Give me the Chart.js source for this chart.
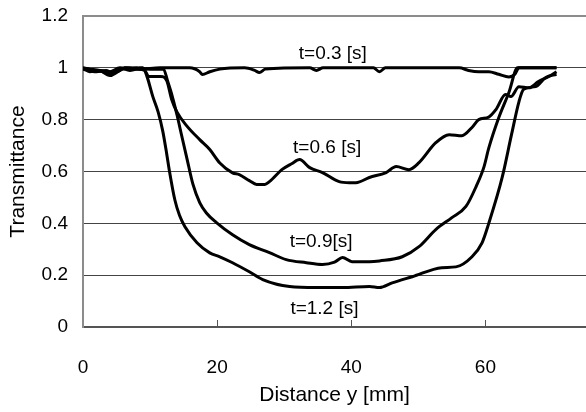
<!DOCTYPE html>
<html><head><meta charset="utf-8">
<script src="https://cdn.jsdelivr.net/npm/chart.js@4"></script>
<style>html,body{margin:0;padding:0;background:#fff}#wrap{width:586px;height:412px}</style>
</head><body><div id="wrap"><canvas id="c" width="586" height="412"></canvas></div>
<script>
const xTicks = [0, 20, 40, 60];
const yTicks = [0, 0.2, 0.4, 0.6, 0.8, 1, 1.2];
const yTickLabels = ['0', '0.2', '0.4', '0.6', '0.8', '1', '1.2'];
const seriesNames = ['t=0.3 [s]', 't=0.6 [s]', 't=0.9[s]', 't=1.2 [s]'];

const dist03 = [0,1,2.5,4,5.2,6.2,8.5,11.5,15.9,17.4,17.8,18.9,20.4,24.1,25.6,26.3,27.2,33.8,34.8,35.8,43.3,44.2,45.1,56.1,57.5,59.0,60.5,62.0,63.5,64.4,65.0,70.6];
const trans03 = [1,0.995,0.99,0.97,0.985,1,0.995,1,1,0.985,0.974,0.985,0.995,1,0.99,0.982,0.995,1,0.99,1,1,0.985,1,1,0.99,0.985,0.985,0.975,0.965,0.975,1,1];

const dist06 = [0,1.5,3,4,5,6.5,8,9.2,9.8,11.6,12.5,13.2,14.0,15.5,17.4,18.9,20.4,22.3,23.3,24.8,25.9,27.1,27.8,29.7,31.1,32.3,33.8,35.7,38.2,39.7,40.7,42.7,45.2,46.7,48.6,50.1,52.6,54.6,56.5,58.0,59.0,60.5,61.6,63.0,63.8,65.0,66.5,67.9,69.4,70.6];
const trans06 = [1,0.99,0.985,0.975,0.99,1,0.995,0.99,0.967,0.967,0.95,0.88,0.83,0.775,0.723,0.685,0.633,0.595,0.588,0.565,0.55,0.55,0.561,0.608,0.63,0.646,0.615,0.596,0.561,0.557,0.557,0.577,0.596,0.619,0.607,0.634,0.711,0.742,0.738,0.77,0.8,0.81,0.84,0.897,0.889,0.927,0.923,0.947,0.966,0.985];

const dist09 = [0,2,3.5,4.5,6,8,10,12.0,12.6,13.2,14.0,14.7,15.5,16.4,17.4,18.4,19.9,22.3,24.8,27.8,30.3,33.3,35.7,37.5,38.7,40.1,42.7,44.2,47.6,50.1,52.6,55.0,57.1,58.6,59.8,60.5,62.0,63.5,64.8,70.6];
const trans09 = [0.995,0.985,0.99,0.98,0.995,1,0.995,0.995,0.95,0.9,0.82,0.74,0.65,0.55,0.48,0.44,0.403,0.356,0.318,0.287,0.26,0.248,0.241,0.25,0.268,0.252,0.252,0.255,0.271,0.31,0.376,0.422,0.465,0.541,0.619,0.69,0.808,0.905,1,1];

const dist12 = [0,1,2.5,4,5.5,7,8.9,9.5,10.4,11.2,11.9,12.5,12.9,13.7,14.4,15.2,17.0,18.9,20.4,22.3,24.8,26.8,30.8,34.8,38.7,42.7,44.2,46.1,49.1,53.5,55.6,58.0,59.5,60.5,62.5,63.9,65.0,65.7,67.5,69.0,70.6];
const trans12 = [1,0.985,0.99,0.985,1,0.99,1,0.97,0.89,0.83,0.755,0.665,0.6,0.49,0.43,0.387,0.325,0.286,0.271,0.248,0.213,0.183,0.156,0.152,0.152,0.156,0.152,0.17,0.194,0.229,0.232,0.271,0.325,0.4,0.577,0.743,0.869,0.917,0.928,0.963,0.975];

const FONT = '"Liberation Sans", Arial, sans-serif';
const pts = (xs, ys) => xs.map((x, i) => ({x, y: ys[i]}));
const allSeries = [[dist03, trans03], [dist06, trans06], [dist09, trans09], [dist12, trans12]];

const curveLabels = {
  id: 'curveLabels',
  afterDatasetsDraw(chart, args, opts) {
    const {ctx, scales} = chart;
    ctx.save();
    ctx.font = opts.size + 'px ' + FONT;
    ctx.fillStyle = '#000';
    ctx.textAlign = 'center';
    ctx.textBaseline = 'middle';
    opts.anchors.forEach((a, i) => {
      ctx.fillText(seriesNames[i], scales.x.getPixelForValue(a[0]), scales.y.getPixelForValue(a[1]));
    });
    ctx.restore();
  }
};

const innerTicks = {
  id: 'innerTicks',
  afterDraw(chart) {
    const {ctx, scales, chartArea} = chart;
    ctx.save();
    ctx.strokeStyle = '#555';
    ctx.lineWidth = 1;
    scales.x.ticks.forEach(t => {
      if (t.value === 0) return;
      const px = Math.round(scales.x.getPixelForValue(t.value)) + 0.5;
      ctx.beginPath();
      ctx.moveTo(px, chartArea.bottom - 1);
      ctx.lineTo(px, chartArea.bottom - 7);
      ctx.stroke();
    });
    ctx.restore();
  }
};

new Chart(document.getElementById('c'), {
  type: 'line',
  data: {
    datasets: allSeries.map((s, i) => ({
      label: seriesNames[i],
      data: pts(s[0], s[1]),
      borderColor: '#000',
      borderWidth: 3,
      pointRadius: 0,
      cubicInterpolationMode: 'monotone',
      fill: false,
      borderJoinStyle: 'round'
    }))
  },
  options: {
    responsive: false,
    devicePixelRatio: 1,
    animation: false,
    layout: {padding: {top: 16, right: 0, bottom: 0, left: 0}},
    plugins: {
      legend: {display: false},
      tooltip: {enabled: false},
      curveLabels: {size: 19, anchors: [[37.25, 1.055], [36.4, 0.692], [35.5, 0.329], [36.0, 0.071]]}
    },
    scales: {
      x: {
        type: 'linear', min: 0, max: 75,
        afterBuildTicks: s => { s.ticks = xTicks.map(v => ({value: v})); },
        afterFit: s => { s.height = 85; s.paddingLeft = 0; s.paddingRight = 0; },
        grid: {display: false},
        border: {display: true, color: '#555', width: 2},
        ticks: {color: '#000', font: {family: FONT, size: 19}, padding: 21, maxRotation: 0, autoSkip: false},
        title: {display: true, text: 'Distance y [mm]', color: '#000', font: {family: FONT, size: 21}, padding: {top: 0, bottom: 4}}
      },
      y: {
        type: 'linear', min: 0, max: 1.2,
        afterBuildTicks: s => { s.ticks = yTicks.map(v => ({value: v})); },
        afterFit: s => { s.width = 83; s.paddingTop = 0; s.paddingBottom = 0; },
        grid: {
          drawTicks: false,
          color: c => (c.tick && c.tick.value > 1.19) ? '#8c8c8c' : '#444',
          lineWidth: c => (c.tick && c.tick.value > 1.19) ? 2 : 1
        },
        border: {display: true, color: '#8c8c8c', width: 2},
        ticks: {color: '#000', font: {family: FONT, size: 19}, padding: 15, autoSkip: false,
          callback: (v, i) => yTickLabels[i]},
        title: {display: true, text: 'Transmittance', color: '#000', font: {family: FONT, size: 21}, padding: {top: 6, bottom: 0}}
      }
    }
  },
  plugins: [curveLabels, innerTicks]
});
</script>
</body></html>
